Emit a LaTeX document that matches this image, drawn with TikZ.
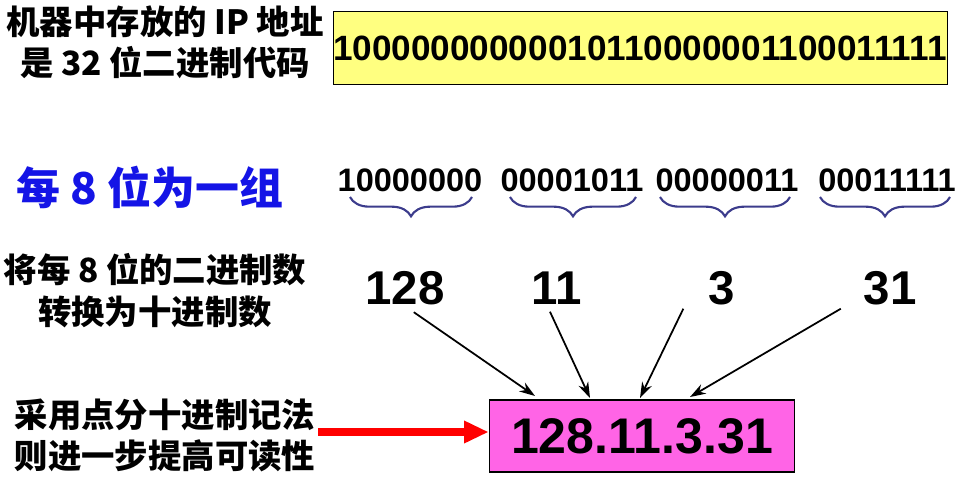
\documentclass[tikz,border=0pt]{standalone}
\usepackage{fontspec}
\setmainfont{Liberation Sans}
\newfontfamily\cjk{Noto Sans CJK SC}
\usetikzlibrary{decorations.pathreplacing,arrows.meta}
\tikzset{
 lbl/.style={font=\cjk\bfseries\fontsize{19}{23}\selectfont,align=center,inner sep=0},
 bits/.style={font=\bfseries\fontsize{18.5}{20}\selectfont,inner sep=0},
 num/.style={font=\bfseries\fontsize{27}{30}\selectfont,inner sep=0},
 brc/.style={decorate,decoration={brace,mirror,amplitude=11pt},draw={rgb,255:red,60;green,60;blue,140},line width=1.2pt},
 arr/.style={-{Stealth[length=9pt,width=6pt]},line width=1pt}
}
\begin{document}
\begin{tikzpicture}[x=0.02cm,y=-0.02cm]
\useasboundingbox (0,0) rectangle (962,477);
\node[lbl] (t1) at (165,22) {机器中存放的 IP 地址};
\node[lbl] (t2) at (165,63) {是 32 位二进制代码};
\node[draw,fill={rgb,255:red,255;green,255;blue,128},minimum width=610*0.02cm,minimum height=73*0.02cm,inner sep=0,
  font=\bfseries\fontsize{20}{22}\selectfont] (ybox) at (640,48) {10000000000010110000001100011111};
\node[font=\cjk\bfseries\fontsize{25}{28}\selectfont,text={rgb,255:red,20;green,20;blue,230},inner sep=0] (grp) at (150,187) {每 8 位为一组};
\node[bits] (g1) at (410,180) {10000000};
\node[bits] (g2) at (572,180) {00001011};
\node[bits] (g3) at (727,180) {00000011};
\node[bits] (g4) at (887,180) {00011111};
\draw[brc] (350,197) -- (472,197);
\draw[brc] (510,197) -- (636,197);
\draw[brc] (660,197) -- (790,197);
\draw[brc] (820,197) -- (950,197);
\node[lbl] (c1) at (155,270) {将每 8 位的二进制数};
\node[lbl] (c2) at (155,312) {转换为十进制数};
\node[num] (n1) at (405,288) {128};
\node[num] (n2) at (557,288) {11};
\node[num] (n3) at (722,288) {3};
\node[num] (n4) at (890,288) {31};
\node[draw,line width=1pt,fill={rgb,255:red,255;green,100;blue,230},minimum width=305*0.02cm,minimum height=72*0.02cm,inner sep=0,
  font=\bfseries\fontsize{28.5}{32}\selectfont] (res) at (642,436) {128.11.3.31};
\coordinate (e1) at (535,396);
\coordinate (e2) at (590,398);
\coordinate (e3) at (640,398);
\coordinate (e4) at (690,397);
\draw[arr] ([xshift=5pt,yshift=-4pt]n1.south) -- (e1);
\draw[arr] ([xshift=-4pt,yshift=-4pt]n2.south) -- (e2);
\draw[arr] ([xshift=-22pt,yshift=-2pt]n3.south) -- (e3);
\draw[arr] ([xshift=-28pt,yshift=-2pt]n4.south) -- (e4);
\node[lbl] (d1) at (165,415) {采用点分十进制记法};
\node[lbl] (d2) at (165,456) {则进一步提高可读性};
\coordinate (rs) at (318,432);
\draw[-{Triangle[length=14pt,width=12pt]},line width=4pt,red] (rs) -- (rs-|res.west);
\end{tikzpicture}
\end{document}
